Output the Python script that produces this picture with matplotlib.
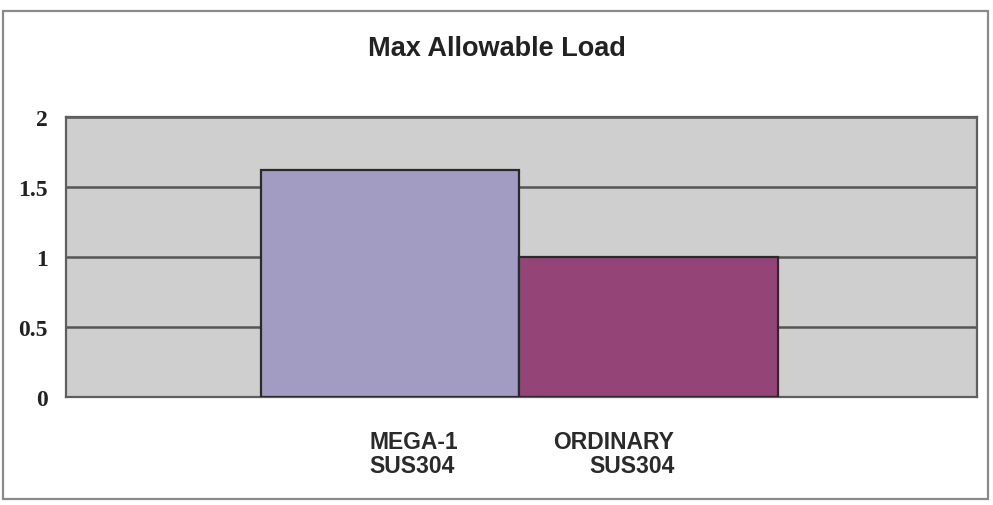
import matplotlib
matplotlib.use("Agg")
import matplotlib.pyplot as plt
from matplotlib.patches import Rectangle
import matplotlib.transforms as mtransforms

categories = ["MEGA-1\nSUS304", "ORDINARY\nSUS304"]
values = [1.62, 1.0]
bar_colors = ["#a29bc2", "#954478"]
yticks = [0, 0.5, 1, 1.5, 2]
ytick_labels = ["0", "0.5", "1", "1.5", "2"]
title = "Max Allowable Load"

# label layout (alignment and offsets relative to each bar)
label_ha = ["left", "right"]
label_dx = [-0.08, 0.10]

fig = plt.figure(figsize=(9.93, 5.06), dpi=100)
fig.patch.set_facecolor("white")
ax = fig.add_axes([66 / 993, 1 - 398 / 506, 911 / 993, 280 / 506])
ax.set_facecolor("#cfcfcf")

x = list(range(len(categories)))
ax.bar(x, values, width=1.0, color=bar_colors, edgecolor="#2a2a2a", linewidth=1.6, zorder=3)

ax.set_xlim(-1.253, 2.271)
ax.set_ylim(0, 2)
ax.set_yticks(yticks)
ax.set_yticklabels(ytick_labels, family="Liberation Serif", fontweight="bold", fontsize=17, color="#222222")
ax.tick_params(axis="y", length=0, pad=13)
ax.set_xticks([])
ax.yaxis.grid(True, color="#555555", linewidth=1.8, zorder=1)
ax.set_axisbelow(True)
for s in ax.spines.values():
    s.set_color("#5f5f5f")
    s.set_linewidth(1.6)

trans = mtransforms.blended_transform_factory(ax.transData, ax.transAxes)
for i, lab in enumerate(categories):
    ax.text(x[i] + label_dx[i], -0.118, lab, transform=trans, ha=label_ha[i], va="top",
            multialignment=label_ha[i], family="Liberation Sans", fontweight="bold",
            fontsize=16.5, color="#2a2a2a", linespacing=1.08)

fig.text(0.5, 1 - 56 / 506, title, ha="center", va="baseline", family="Liberation Sans",
         fontweight="bold", fontsize=19.5, color="#222222")

fig.patches.append(Rectangle((3 / 993, 1 - 500 / 506), 985 / 993, 488 / 506,
                             transform=fig.transFigure, fill=False, ec="#8a8a8a", lw=1.6))

fig.savefig("out.png", dpi=100)
